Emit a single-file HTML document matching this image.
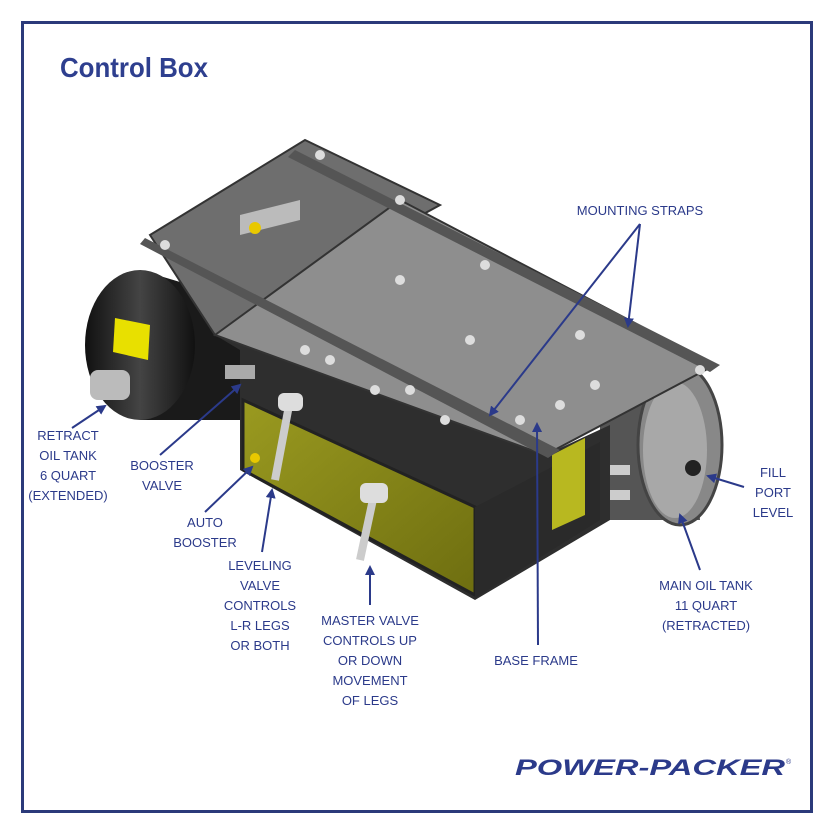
<!DOCTYPE html>
<html><head><style>
body{margin:0;background:#fff;width:833px;height:833px;overflow:hidden;font-family:"Liberation Sans",sans-serif}
</style></head><body>
<svg width="833" height="833" viewBox="0 0 833 833" xmlns="http://www.w3.org/2000/svg">
<defs>
<marker id="a" markerWidth="10" markerHeight="10" refX="8" refY="5" orient="auto" markerUnits="userSpaceOnUse"><path d="M0,0 L10,5 L0,10 z" fill="#2b3a8a"/></marker>
<linearGradient id="cyl" x1="0" x2="1"><stop offset="0" stop-color="#111"/><stop offset="0.5" stop-color="#444"/><stop offset="1" stop-color="#111"/></linearGradient>
<linearGradient id="yel" x1="0" x2="1" y1="0" y2="1"><stop offset="0" stop-color="#9a9a20"/><stop offset="1" stop-color="#6e6e10"/></linearGradient>
</defs>
<rect x="22.5" y="22.5" width="789" height="789" fill="none" stroke="#2b3a7a" stroke-width="3"/>
<text x="60" y="77" font-size="28" fill="#2e3f8f" font-weight="bold" textLength="148" lengthAdjust="spacingAndGlyphs">Control Box</text>

<!-- left cylinder -->
<path d="M140,270 L240,300 L240,420 L140,420 Z" fill="#1a1a1a"/>
<ellipse cx="140" cy="345" rx="55" ry="75" fill="url(#cyl)"/>
<polygon points="115,318 150,325 148,360 113,352" fill="#e8e000"/>
<rect x="90" y="370" width="40" height="30" rx="8" fill="#bbb"/>
<!-- right cylinder -->
<path d="M600,420 L690,375 L700,520 L600,520 Z" fill="#555"/>
<ellipse cx="680" cy="445" rx="42" ry="80" fill="#888" stroke="#444" stroke-width="3"/>
<ellipse cx="675" cy="450" rx="32" ry="68" fill="#a8a8a8"/>
<circle cx="693" cy="468" r="8" fill="#222"/>
<rect x="590" y="465" width="40" height="10" fill="#ccc"/>
<rect x="590" y="490" width="40" height="10" fill="#ccc"/>
<!-- dark body backing -->
<polygon points="215,335 545,455 610,425 610,520 475,600 240,470 240,350" fill="#2e2e2e"/>
<!-- box faces -->
<polygon points="243,400 475,507 475,595 243,470" fill="url(#yel)" stroke="#222" stroke-width="3"/>
<polygon points="475,507 600,442 600,520 475,598" fill="#2a2a2a"/>
<polygon points="552,455 585,438 585,515 552,530" fill="#b8b820"/>
<!-- top plates -->
<polygon points="150,235 305,140 440,205 330,265 215,335" fill="#6e6e6e" stroke="#333" stroke-width="2"/>
<polygon points="215,335 400,200 715,365 545,455" fill="#8e8e8e" stroke="#333" stroke-width="2"/>
<polygon points="295,150 720,365 710,372 288,157" fill="#555"/>
<polygon points="145,238 560,450 548,458 140,244" fill="#555"/>
<polygon points="240,215 300,200 300,220 240,235" fill="#bbb"/>
<circle cx="255" cy="228" r="6" fill="#e8c800"/>
<g fill="#ddd">
<circle cx="320" cy="155" r="5"/><circle cx="400" cy="200" r="5"/><circle cx="485" cy="265" r="5"/><circle cx="580" cy="335" r="5"/><circle cx="700" cy="370" r="5"/>
<circle cx="165" cy="245" r="5"/><circle cx="305" cy="350" r="5"/><circle cx="375" cy="390" r="5"/><circle cx="445" cy="420" r="5"/><circle cx="520" cy="420" r="5"/><circle cx="560" cy="405" r="5"/><circle cx="595" cy="385" r="5"/>
<circle cx="400" cy="280" r="5"/><circle cx="470" cy="340" r="5"/><circle cx="330" cy="360" r="5"/><circle cx="410" cy="390" r="5"/>
</g>
<!-- handles -->
<path d="M290,400 L275,480" stroke="#ccc" stroke-width="8"/>
<path d="M375,490 L360,560" stroke="#ccc" stroke-width="8"/>
<rect x="278" y="393" width="25" height="18" rx="6" fill="#ddd"/>
<rect x="360" y="483" width="28" height="20" rx="6" fill="#ddd"/>
<circle cx="255" cy="458" r="5" fill="#e8c800"/>
<rect x="225" y="365" width="30" height="14" fill="#aaa"/>

<!-- arrows -->
<g stroke="#2b3a8a" stroke-width="2" fill="none" marker-end="url(#a)">
<line x1="640" y1="224" x2="490" y2="415"/>
<line x1="640" y1="224" x2="628" y2="326"/>
<line x1="538" y1="645" x2="537" y2="424"/>
<line x1="72" y1="428" x2="105" y2="406"/>
<line x1="160" y1="455" x2="240" y2="385"/>
<line x1="205" y1="512" x2="252" y2="467"/>
<line x1="262" y1="552" x2="272" y2="490"/>
<line x1="370" y1="605" x2="370" y2="567"/>
<line x1="700" y1="570" x2="680" y2="515"/>
<line x1="744" y1="487" x2="708" y2="476"/>
</g>
<g font-size="13" fill="#2b3a8a" text-anchor="middle">
<text x="640" y="215">MOUNTING STRAPS</text>
<text x="68" y="440">RETRACT</text><text x="68" y="460">OIL TANK</text><text x="68" y="480">6 QUART</text><text x="68" y="500">(EXTENDED)</text>
<text x="162" y="470">BOOSTER</text><text x="162" y="490">VALVE</text>
<text x="205" y="527">AUTO</text><text x="205" y="547">BOOSTER</text>
<text x="260" y="570">LEVELING</text><text x="260" y="590">VALVE</text><text x="260" y="610">CONTROLS</text><text x="260" y="630">L-R LEGS</text><text x="260" y="650">OR BOTH</text>
<text x="370" y="625">MASTER VALVE</text><text x="370" y="645">CONTROLS UP</text><text x="370" y="665">OR DOWN</text><text x="370" y="685">MOVEMENT</text><text x="370" y="705">OF LEGS</text>
<text x="536" y="665">BASE FRAME</text>
<text x="706" y="590">MAIN OIL TANK</text><text x="706" y="610">11 QUART</text><text x="706" y="630">(RETRACTED)</text>
<text x="773" y="477">FILL</text><text x="773" y="497">PORT</text><text x="773" y="517">LEVEL</text>
</g>
<text x="515" y="775" font-size="22" font-weight="bold" font-style="italic" fill="#2b3a8a" textLength="270" lengthAdjust="spacingAndGlyphs">POWER-PACKER</text>
<text x="786" y="764" font-size="7" fill="#2b3a8a">®</text>
</svg>
</body></html>
